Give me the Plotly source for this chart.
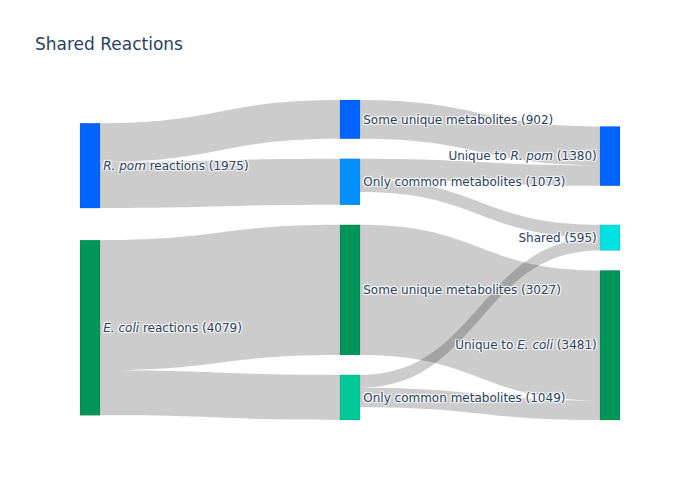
import plotly.graph_objects as go

# node labels (left -> middle -> right)
labels = [
    "<i>R. pom</i> reactions (1975)",
    "<i>E. coli</i> reactions (4079)",
    "Some unique metabolites (902)",
    "Only common metabolites (1073)",
    "Some unique metabolites (3027)",
    "Only common metabolites (1049)",
    "Unique to <i>R. pom</i> (1380)",
    "Shared (595)",
    "Unique to <i>E. coli</i> (3481)",
]
node_colors = [
    "#0064ff", "#00965a", "#0064ff", "#0091ff", "#00965a",
    "#00c896", "#0064ff", "#00e1e1", "#00965a",
]

# links
sources = [0, 0, 1, 1, 2, 3, 3, 4, 5, 5]
targets = [2, 3, 4, 5, 6, 6, 7, 8, 7, 8]
values = [902, 1073, 3027, 1049, 902, 478, 297.5, 3027, 297.5, 454]

fig = go.Figure(
    go.Sankey(
        node=dict(
            label=labels,
            color=node_colors,
            pad=20,
            thickness=20,
            line=dict(color="rgba(0,0,0,0.2)", width=0.5),
        ),
        link=dict(source=sources, target=targets, value=values),
    )
)

# page body adds 8px, so shift the margins to line up with the reference
fig.update_layout(
    title=dict(text="Shared Reactions", x=27 / 700, xanchor="left",
               y=1 - 36 / 500, yanchor="middle", font=dict(size=17)),
    font=dict(family="Verdana, DejaVu Sans, sans-serif", size=12, color="#2a3f5f"),
    width=700,
    height=500,
    margin=dict(l=72, r=88, t=92, b=88),
    template="plotly",
)

fig.write_html("out.html")
